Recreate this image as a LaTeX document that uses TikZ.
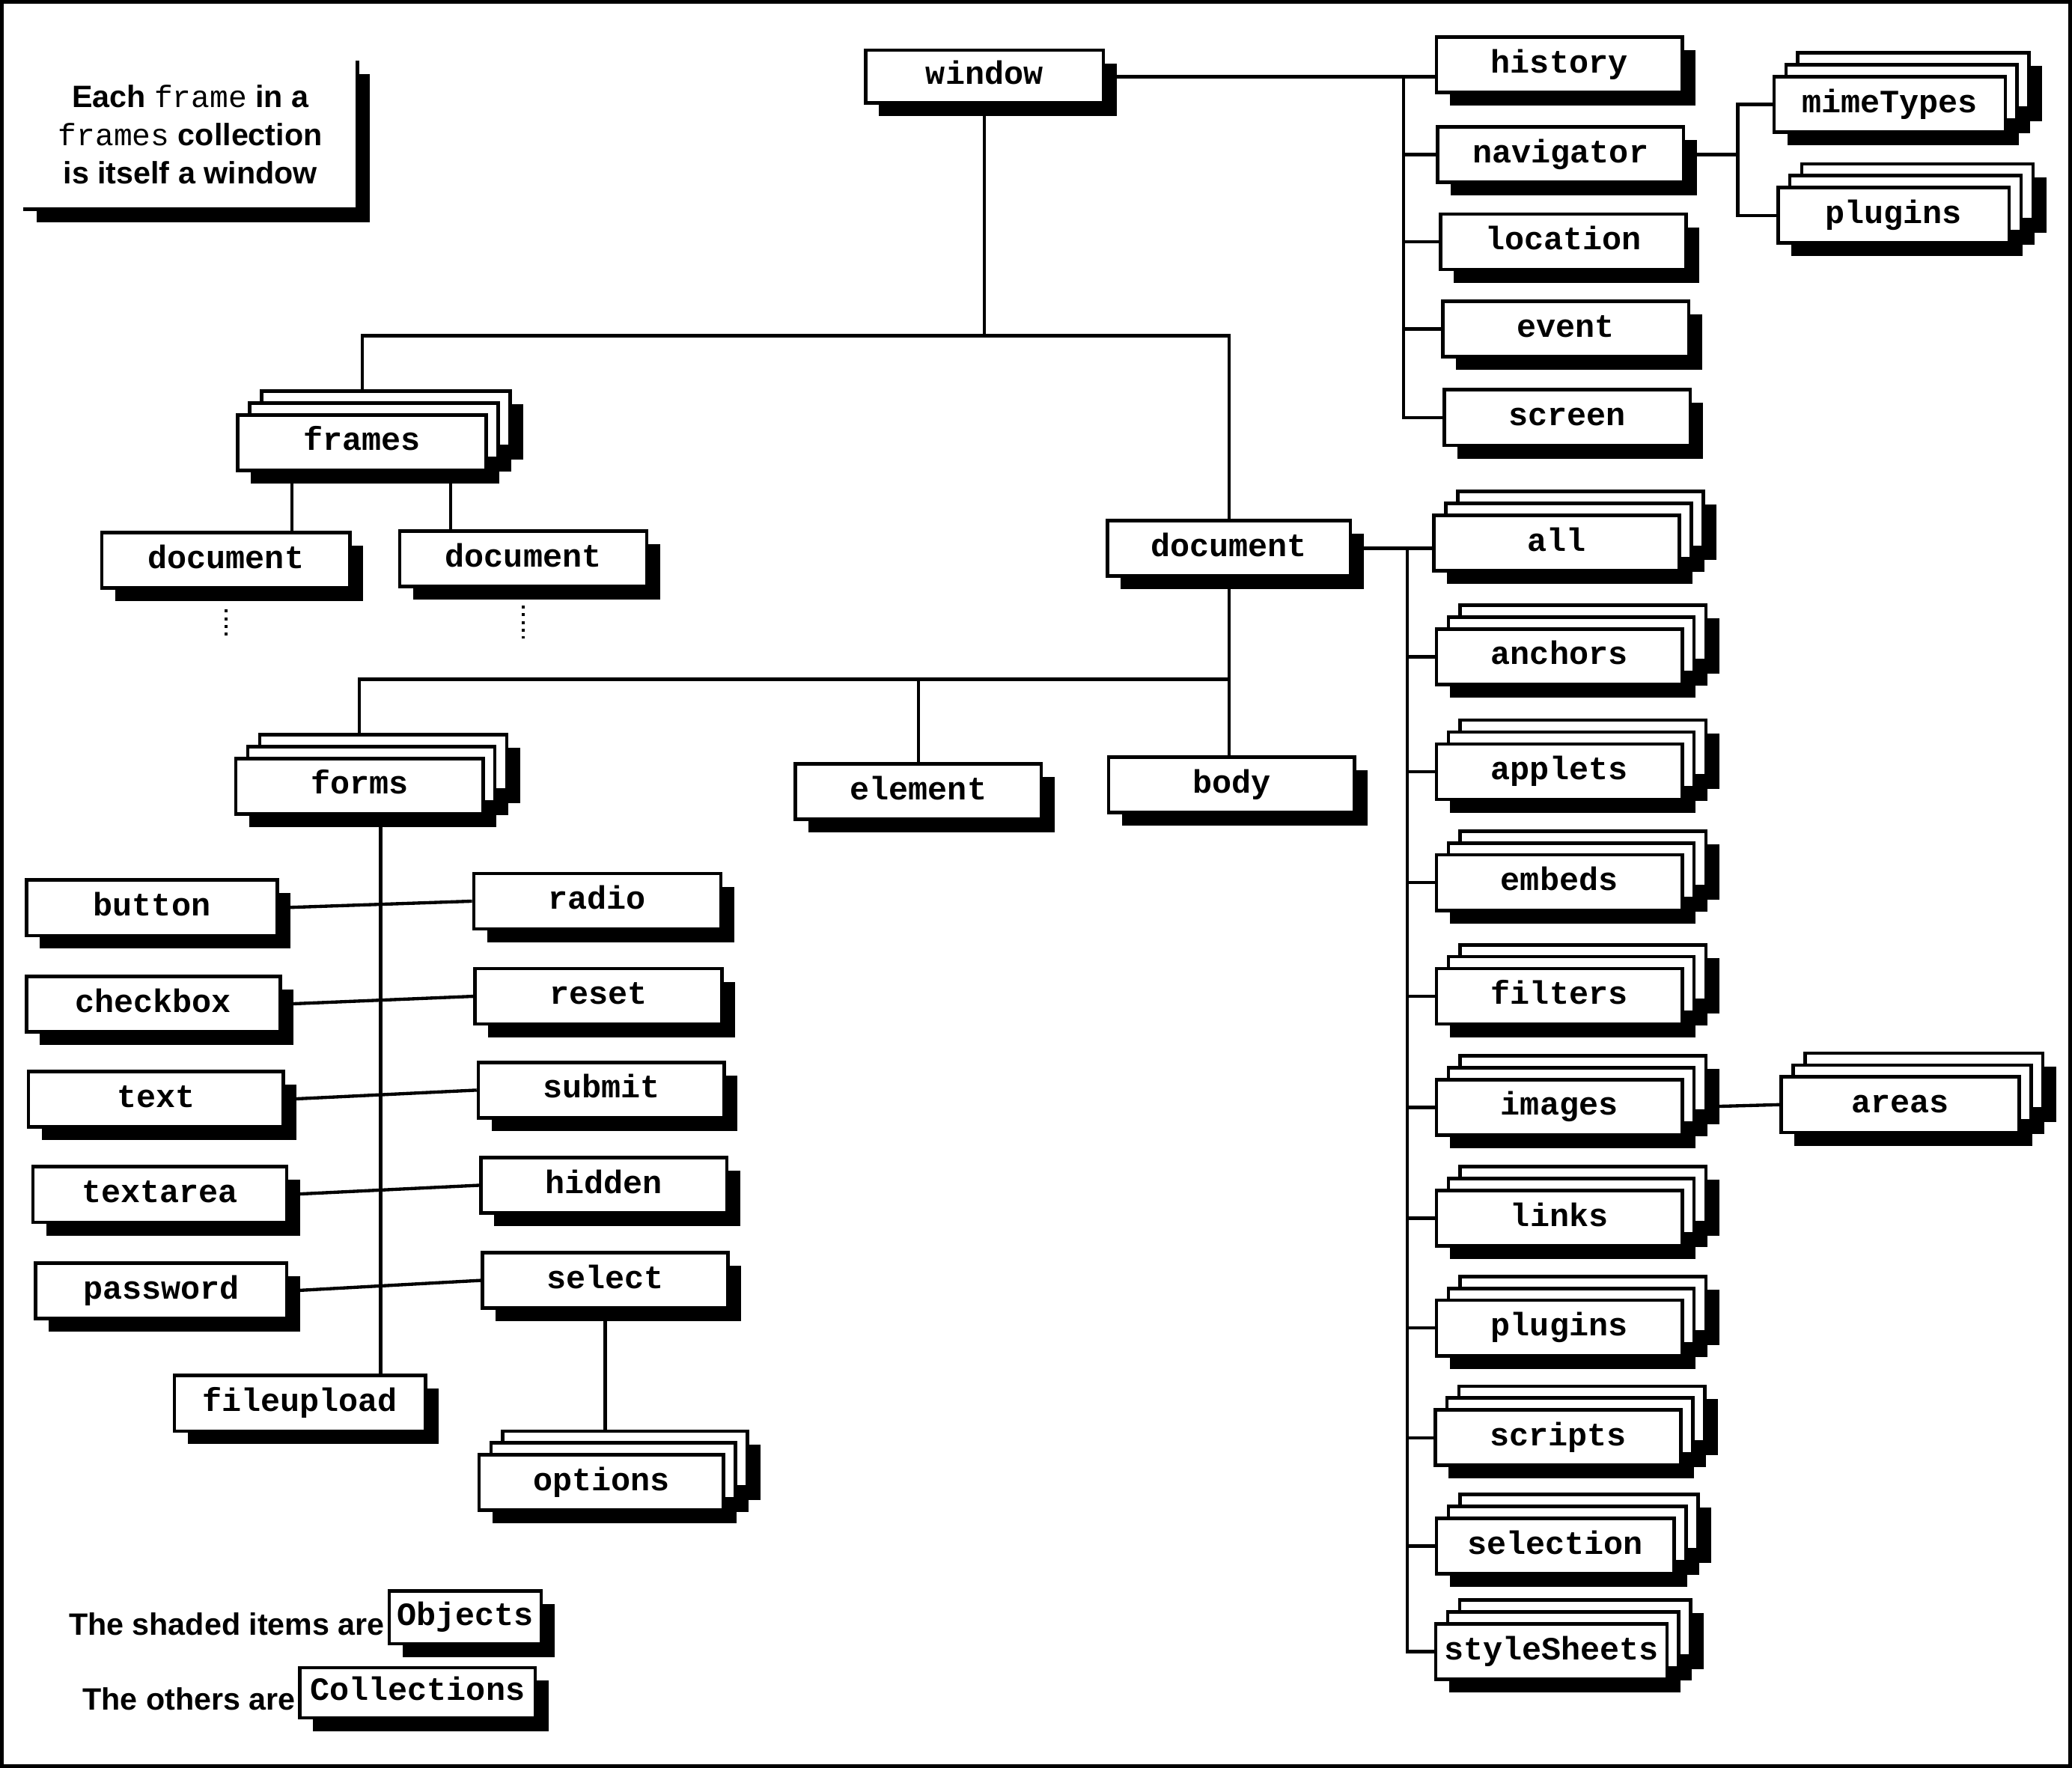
\documentclass[tikz,border=0pt]{standalone}
\usepackage{fontspec}
\setmainfont{Liberation Sans}
\newfontfamily\monofont{Liberation Mono}
\usetikzlibrary{positioning,shadows,backgrounds}
\newcommand{\boxfont}{\monofont\bfseries\fontsize{14}{16}\selectfont}
\newcommand{\notefont}{\bfseries\fontsize{13.3}{16.5}\selectfont}
\tikzset{
    objbox/.style={rectangle, draw, fill=white, line width=1.5pt, minimum width=3.72cm, minimum height=0.84cm,
        inner sep=2pt, text height=0.33cm, text depth=0.09cm, font=\boxfont,
        general shadow={fill=black, shadow xshift=0.2cm, shadow yshift=-0.2cm}},
    collbox/.style={rectangle, draw, fill=white, line width=1.5pt, minimum width=3.72cm, minimum height=0.84cm,
        inner sep=2pt, text height=0.33cm, text depth=0.09cm, font=\boxfont,
        general shadow={fill=black, shadow xshift=0.56cm, shadow yshift=0.16cm},
        general shadow={fill=black, shadow xshift=0.38cm, shadow yshift=-0.02cm},
        general shadow={fill=black, shadow xshift=0.2cm, shadow yshift=-0.2cm},
        general shadow={fill=white, draw=black, line width=1.5pt, shadow xshift=0.36cm, shadow yshift=0.36cm},
        general shadow={fill=white, draw=black, line width=1.5pt, shadow xshift=0.18cm, shadow yshift=0.18cm}},
    line/.style={draw, line width=1.4pt},
    dotline/.style={draw, dotted, line width=1.3pt}
}
\begin{document}
\begin{tikzpicture}[x=0.02cm, y=-0.02cm]
    \useasboundingbox (0,0) rectangle (1568,1338);
    \draw[line width=1.5pt] (1.3,1.3) rectangle (1566.7,1336.7);

    % note
    \node[fill=white, minimum width=5.04cm, minimum height=2.24cm, align=center, font=\notefont,
        general shadow={fill=black, shadow xshift=0.2cm, shadow yshift=-0.2cm}] (note) at (144,102)
        {Each {\monofont\mdseries frame} in a\\{\monofont\mdseries frames} collection\\is itself a window};
    \draw[line width=1.5pt] (note.south west) -| (note.north east);

    % window and its properties
    \node[objbox, minimum width=3.6cm, minimum height=0.8cm] (window) at (745,58) {window};
    \node[objbox] (history) at (1180,49) {history};
    \node[objbox] (navigator) at (1181,117) {navigator};
    \node[objbox] (location) at (1183,183) {location};
    \node[objbox] (event) at (1185,249) {event};
    \node[objbox] (screen) at (1186,316) {screen};
    \node[collbox, minimum width=3.5cm] (mimeTypes) at (1430,79) {mimeTypes};
    \node[collbox, minimum width=3.5cm] (navplugins) at (1433,163) {plugins};

    % frames
    \node[collbox, minimum width=3.76cm] (frames) at (274,335) {frames};
    \node[objbox, minimum width=3.76cm] (fdoc1) at (171,424) {document};
    \node[objbox, minimum width=3.74cm] (fdoc2) at (396,423) {document};

    % document
    \node[objbox, minimum width=3.68cm] (document) at (930,415) {document};
    \node[collbox, minimum width=3.74cm] (forms) at (272,595) {forms};
    \node[objbox] (element) at (695,599) {element};
    \node[objbox] (body) at (932,594) {body};

    % form elements
    \node[objbox, minimum width=3.8cm] (button) at (115,687) {button};
    \node[objbox, minimum width=3.84cm] (checkbox) at (116,760) {checkbox};
    \node[objbox, minimum width=3.86cm] (textfld) at (118,832) {text};
    \node[objbox, minimum width=3.84cm] (textarea) at (121,904) {textarea};
    \node[objbox, minimum width=3.8cm] (password) at (122,977) {password};
    \node[objbox, minimum width=3.74cm] (radio) at (452,682) {radio};
    \node[objbox, minimum width=3.74cm] (reset) at (453,754) {reset};
    \node[objbox] (submit) at (455,825) {submit};
    \node[objbox] (hidden) at (457,897) {hidden};
    \node[objbox] (select) at (458,969) {select};
    \node[objbox, minimum width=3.8cm] (fileupload) at (227,1062) {fileupload};
    \node[collbox, minimum width=3.7cm] (options) at (455,1122) {options};

    % document collections
    \node[collbox] (all) at (1178,411) {all};
    \node[collbox] (anchors) at (1180,497) {anchors};
    \node[collbox] (applets) at (1180,584) {applets};
    \node[collbox] (embeds) at (1180,668) {embeds};
    \node[collbox] (filters) at (1180,754) {filters};
    \node[collbox] (images) at (1180,838) {images};
    \node[collbox] (links) at (1180,922) {links};
    \node[collbox] (docplugins) at (1180,1005) {plugins};
    \node[collbox] (scripts) at (1179,1088) {scripts};
    \node[collbox, minimum width=3.6cm] (selection) at (1177,1170) {selection};
    \node[collbox, minimum width=3.5cm] (styleSheets) at (1174,1250) {styleSheets};
    \node[collbox, minimum width=3.6cm] (areas) at (1438,836) {areas};

    % legend
    \node[objbox, minimum width=2.3cm, minimum height=0.8cm] (objkey) at (352,1224) {Objects};
    \node[left=1pt of objkey, yshift=-0.1cm, inner sep=0pt, font=\notefont] (objtext) {The shaded items are};
    \node[objbox, minimum width=3.56cm, minimum height=0.76cm] (collkey) at (316,1281) {Collections};
    \node[left=1pt of collkey, yshift=-0.1cm, inner sep=0pt, font=\notefont] (colltext) {The others are};

    \coordinate (wt) at (1062,0);
    \coordinate (nt) at (1315,0);
    \coordinate (dt) at (1065,0);
    \coordinate (wj) at (745,254);
    \coordinate (dj) at (930,514);

    \begin{scope}[on background layer]
        \draw[line] (window.east) -- (window.east -| history.west);
        \draw[line] (window.east -| wt) |- (screen.west);
        \foreach \n in {navigator, location, event}
            \draw[line] (\n.west -| wt) -- (\n.west);
        \draw[line] (navigator.east) -- (navigator.east -| nt);
        \draw[line] (mimeTypes.west) -- (mimeTypes.west -| nt) -- (navplugins.west -| nt) -- (navplugins.west);

        \draw[line] (window.south) -- (wj);
        \draw[line] (frames.north) -- (frames.north |- wj) -- (wj -| document.north) -- (document.north);
        \draw[line] ([xshift=-1.06cm]frames.south) -- ([xshift=-1.06cm]frames.south |- fdoc1.north);
        \draw[line] ([xshift=1.34cm]frames.south) -- ([xshift=1.34cm]frames.south |- fdoc2.north);
        \draw[dotline] ([yshift=-0.3cm]fdoc1.south) -- ([yshift=-0.72cm]fdoc1.south);
        \draw[dotline] ([yshift=-0.26cm]fdoc2.south) -- ([yshift=-0.76cm]fdoc2.south);

        \draw[line] (document.south) -- (document.south |- body.north);
        \draw[line] (forms.north) -- (forms.north |- dj) -- (dj);
        \draw[line] (element.north) -- (element.north |- dj);

        \draw[line] ([xshift=0.32cm]forms.south) -- ([xshift=0.32cm]forms.south |- fileupload.north);
        \foreach \l/\r in {button/radio, checkbox/reset, textfld/submit, textarea/hidden, password/select}
            \draw[line] (\l.east) -- (\r.west);
        \draw[line] (select.south) -- (select.south |- options.north);

        \draw[line] (document.east) -- (document.east -| all.west);
        \draw[line] (document.east -| dt) |- (styleSheets.west);
        \foreach \n in {anchors, applets, embeds, filters, images, links, docplugins, scripts, selection}
            \draw[line] (\n.west -| dt) -- (\n.west);
        \draw[line] (images.east) -- (areas.west);
    \end{scope}
\end{tikzpicture}
\end{document}
